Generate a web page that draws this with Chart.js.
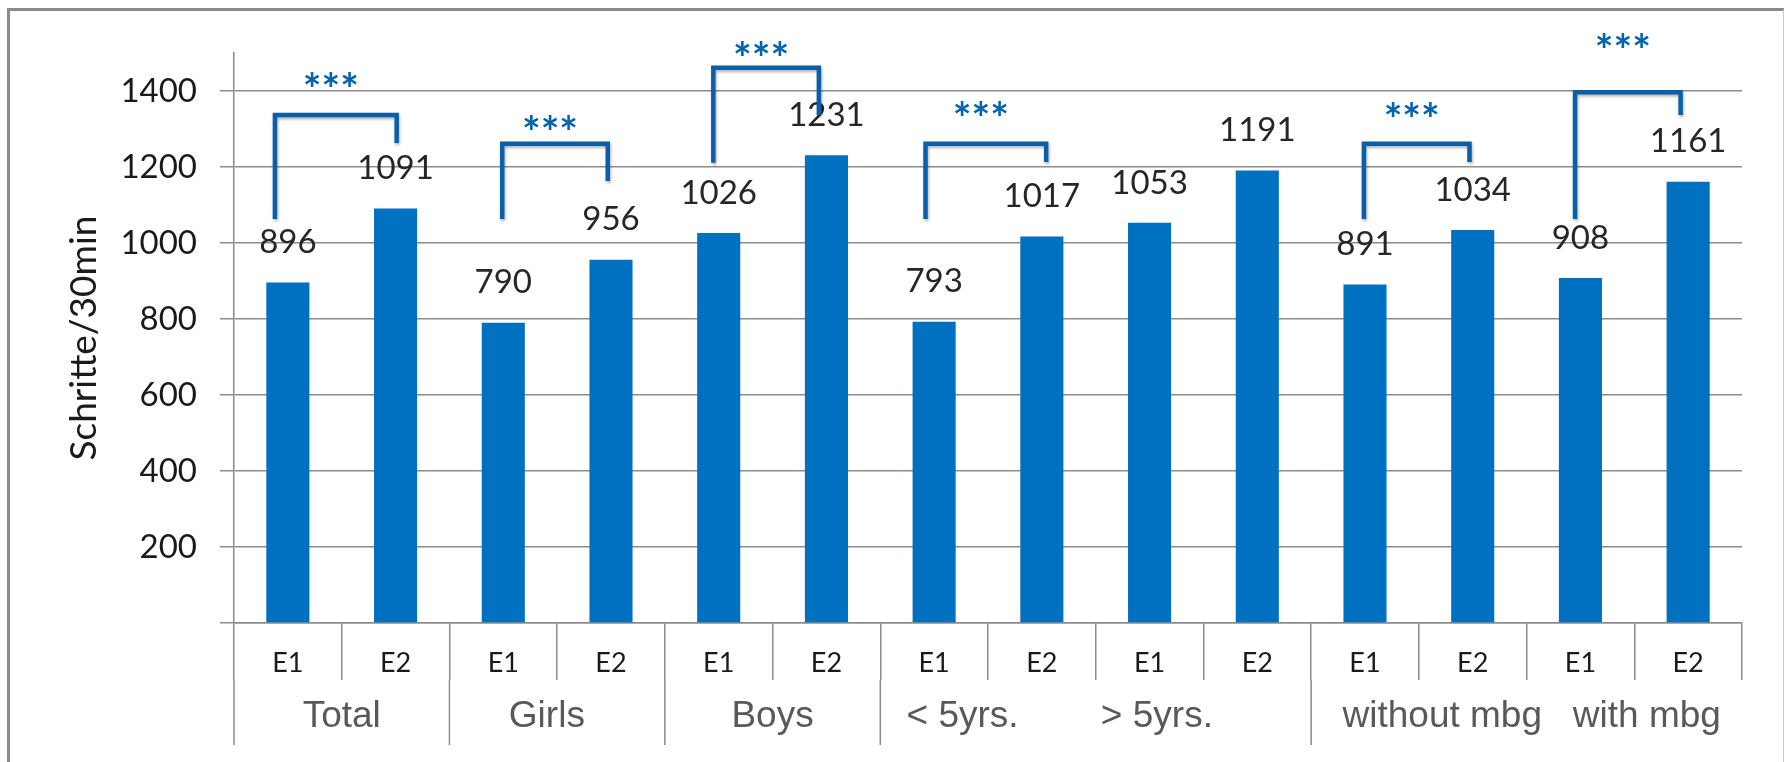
<!DOCTYPE html>
<html>
<head>
<meta charset="utf-8">
<script src="https://cdn.jsdelivr.net/npm/chart.js@4.4.1/dist/chart.umd.min.js"></script>
<style>
  html, body { margin: 0; padding: 0; background: #fff; }
  #wrap { position: relative; width: 1784px; height: 762px; overflow: hidden; }
  #frame {
    position: absolute; left: 7px; top: 8px; width: 1773px; height: 800px;
    border-left: 3px solid #8a8a8a; border-top: 3px solid #8a8a8a; border-right: 1px solid #c8c8c8;
    pointer-events: none;
  }
</style>
</head>
<body>
<div id="wrap">
  <canvas id="myChart" width="1784" height="762"></canvas>
  <div id="frame"></div>
</div>
<script>
const categories = ["E1", "E2", "E1", "E2", "E1", "E2", "E1", "E2", "E1", "E2", "E1", "E2", "E1", "E2"];
const values = [896, 1091, 790, 956, 1026, 1231, 793, 1017, 1053, 1191, 891, 1034, 908, 1161];

// second level of the x axis (group names, and how many bars each covers)
const groupLabels = ["Total", "Girls  ", "Boys", "< 5yrs.        > 5yrs.       ", " without mbg   with mbg"];
const groupSizes = [2, 2, 2, 4, 4];

// significance brackets: x in category units, heights in steps
const bracketFrom = [-0.12, 1.99, 3.95, 5.92, 9.99, 11.95];
const bracketTo = [1.01, 2.97, 4.93, 7.04, 10.97, 12.93];
const bracketTop = [1337, 1261, 1461, 1261, 1261, 1397];
const bracketLeftEnd = [1063, 1063, 1211, 1063, 1063, 1063];
const bracketRightEnd = [1263, 1163, 1337, 1213, 1213, 1337];
const starLevel = [1421, 1308, 1503, 1345, 1342, 1524];
const starText = "***";

const gridGray = "#8c8c8c";
const barBlue = "#0070c0";
const bracketBlue = "#0a60a8";

const extras = {
  id: "extras",
  afterDatasetsDraw(chart) {
    const ctx = chart.ctx;
    const x = chart.scales.x;
    const y = chart.scales.y;
    const step = x.getPixelForValue(1) - x.getPixelForValue(0);
    const meta = chart.getDatasetMeta(0);

    ctx.save();
    // value labels
    ctx.font = "33px Lato";
    ctx.fillStyle = "#262626";
    ctx.textAlign = "center";
    ctx.textBaseline = "middle";
    meta.data.forEach((bar, i) => {
      ctx.fillText(values[i], bar.x, bar.y - 40);
    });

    // group dividers + group names
    const lineTop = y.bottom + 57;
    ctx.strokeStyle = gridGray;
    ctx.lineWidth = 1.5;
    ctx.font = "37px 'Liberation Sans'";
    ctx.fillStyle = "#595959";
    let start = 0;
    groupSizes.forEach((n, g) => {
      const left = x.getPixelForValue(start) - step / 2;
      const right = x.getPixelForValue(start + n - 1) + step / 2;
      ctx.beginPath();
      ctx.moveTo(left, lineTop);
      ctx.lineTo(left, 745);
      ctx.stroke();
      ctx.fillText(groupLabels[g], (left + right) / 2, 717);
      start += n;
    });

    // brackets
    ctx.strokeStyle = bracketBlue;
    ctx.lineWidth = 4.5;
    ctx.lineJoin = "miter";
    ctx.shadowColor = "rgba(0,0,0,0.3)";
    ctx.shadowBlur = 3;
    ctx.shadowOffsetX = 1;
    ctx.shadowOffsetY = 2;
    for (let i = 0; i < bracketFrom.length; i++) {
      const x1 = x.getPixelForValue(bracketFrom[i]);
      const x2 = x.getPixelForValue(bracketTo[i]);
      ctx.beginPath();
      ctx.moveTo(x1, y.getPixelForValue(bracketLeftEnd[i]));
      ctx.lineTo(x1, y.getPixelForValue(bracketTop[i]));
      ctx.lineTo(x2, y.getPixelForValue(bracketTop[i]));
      ctx.lineTo(x2, y.getPixelForValue(bracketRightEnd[i]));
      ctx.stroke();
    }
    ctx.shadowColor = "transparent";

    ctx.font = "bold 44px Lato";
    ctx.fillStyle = "#0563ae";
    for (let i = 0; i < bracketFrom.length; i++) {
      const mid = (x.getPixelForValue(bracketFrom[i]) + x.getPixelForValue(bracketTo[i])) / 2;
      ctx.fillText(starText, mid - 5, y.getPixelForValue(starLevel[i]) + 8);
    }
    ctx.restore();
  }
};

new Chart("myChart", {
  type: "bar",
  data: {
    labels: categories,
    datasets: [{
      data: values,
      backgroundColor: barBlue,
      categoryPercentage: 1,
      barPercentage: 0.4,
    }]
  },
  options: {
    responsive: false,
    animation: false,
    layout: { padding: { top: 53, right: 42, bottom: 0, left: 0 } },
    plugins: {
      legend: { display: false },
      tooltip: { enabled: false },
    },
    scales: {
      x: {
        afterFit(scale) { scale.height = 139; },
        grid: {
          display: true,
          drawOnChartArea: false,
          offset: true,
          tickLength: 57,
          color: gridGray,
          lineWidth: 1.5,
        },
        border: { display: true, color: gridGray, width: 1.5 },
        ticks: {
          padding: -33,
          autoSkip: false,
          maxRotation: 0,
          color: "#1a1a1a",
          font: { family: "Lato", size: 27 },
        },
      },
      y: {
        min: 0,
        max: 1500,
        afterFit(scale) { scale.width = 234; },
        grid: { color: gridGray, lineWidth: 1.5, tickLength: 14 },
        border: { display: true, color: gridGray, width: 1.5 },
        ticks: {
          stepSize: 200,
          includeBounds: false,
          padding: 23,
          color: "#1a1a1a",
          font: { family: "Lato", size: 33 },
          callback: (v) => (v === 0 ? "" : v),
        },
        title: {
          display: true,
          text: "Schritte/30min",
          color: "#1a1a1a",
          font: { family: "Lato", size: 37 },
          padding: { top: 62, bottom: 0 },
        },
      },
    },
  },
  plugins: [extras],
});
</script>
</body>
</html>
